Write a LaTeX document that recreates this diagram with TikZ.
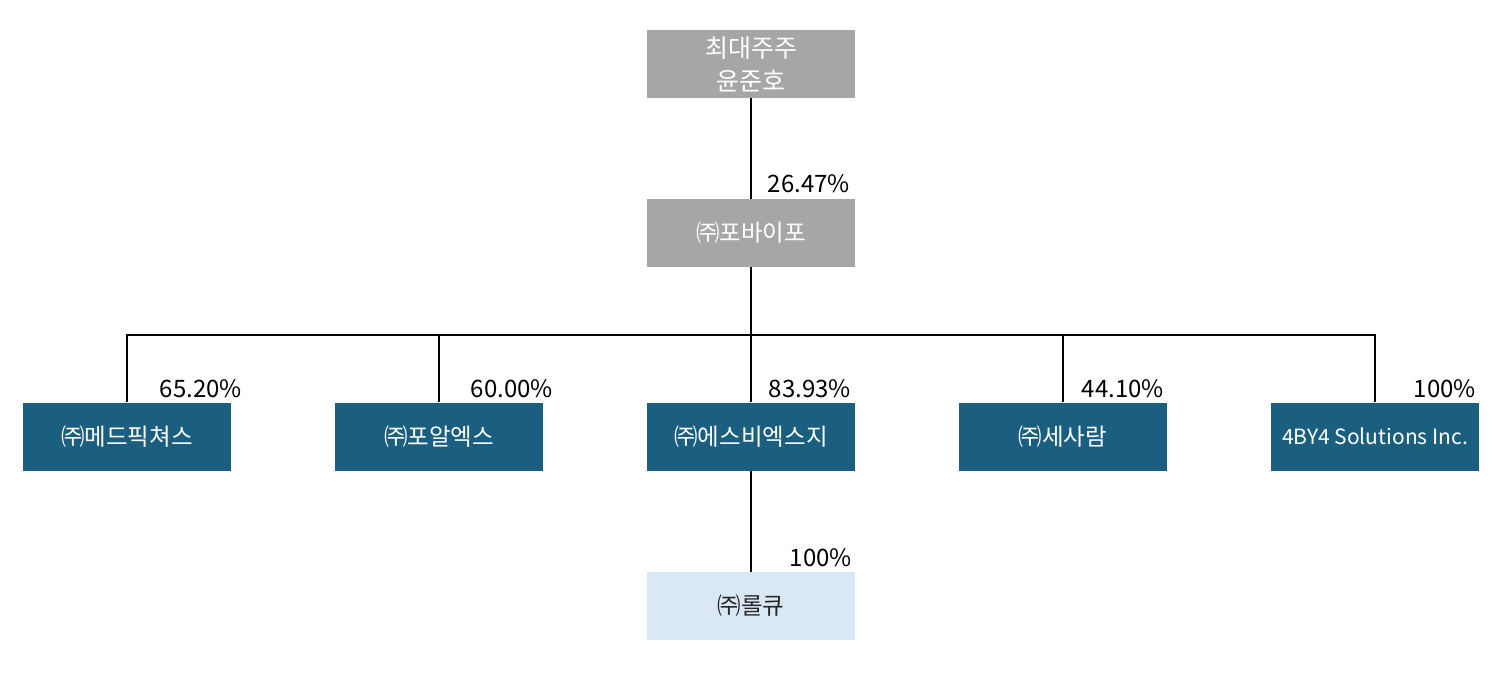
\documentclass[tikz,border=0pt]{standalone}
\usepackage{fontspec}
\setmainfont{Noto Sans CJK KR}
\definecolor{graybox}{HTML}{A6A6A6}
\definecolor{bluebox}{HTML}{1A5F80}
\definecolor{lightbox}{HTML}{DAE7F5}
\begin{document}
\begin{tikzpicture}[x=1pt,y=-1pt,
  box/.style={minimum width=208pt,minimum height=68pt,inner sep=0pt,align=center,font=\fontsize{23.5}{33}\selectfont},
  gbox/.style={box,fill=graybox,text=white},
  bbox/.style={box,fill=bluebox,text=white},
  lbox/.style={box,fill=lightbox,text=black!85},
  pct/.style={anchor=south east,inner sep=0pt,font=\fontsize{24}{28}\selectfont,text=black},
  link/.style={draw=black,line width=1.6pt}]
\useasboundingbox (0,0) rectangle (1506,678);
\node[gbox,font=\fontsize{25}{33}\selectfont] (top) at (751,64) {최대주주\\윤준호};
\node[gbox] (fbf) at (751,233) {㈜포바이포};
\node[bbox] (med) at (127,436.5) {㈜메드픽쳐스};
\node[bbox] (far) at (439,436.5) {㈜포알엑스};
\node[bbox] (sbx) at (751,436.5) {㈜에스비엑스지};
\node[bbox] (sar) at (1063,436.5) {㈜세사람};
\node[bbox,font=\fontsize{21}{26}\selectfont] (fby) at (1375,436.5) {4BY4 Solutions Inc.};
\node[lbox] (rol) at (751,606) {㈜롤큐};
\coordinate (bus) at (751,335);
\draw[link] (top) -- (fbf);
\draw[link] (fbf) -- (bus);
\draw[link] (bus) -| (med.north);
\draw[link] (bus) -| (far.north);
\draw[link] (bus) -- (sbx);
\draw[link] (bus) -| (sar.north);
\draw[link] (bus) -| (fby.north);
\draw[link] (sbx) -- (rol);
\node[pct] (p1) at (850,193) {26.47\%};
\node[pct] (p2) at (242,398) {65.20\%};
\node[pct] (p3) at (553,398) {60.00\%};
\node[pct] (p4) at (851,398) {83.93\%};
\node[pct] (p5) at (1164,398) {44.10\%};
\node[pct] (p6) at (1476,398) {100\%};
\node[pct] (p7) at (852,567) {100\%};
\end{tikzpicture}
\end{document}
